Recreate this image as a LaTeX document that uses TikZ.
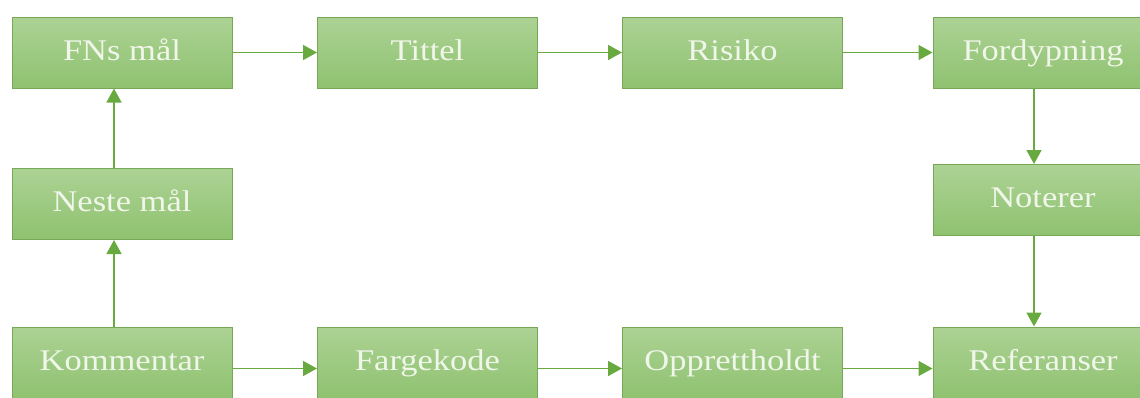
\documentclass[tikz,border=0pt]{standalone}
\usepackage{fontspec}
\setmainfont[FakeStretch=1.15]{Liberation Serif}
\usetikzlibrary{arrows.meta}
\definecolor{boxtop}{RGB}{172,210,148}
\definecolor{boxbot}{RGB}{143,194,112}
\definecolor{boxline}{RGB}{118,168,88}
\definecolor{arrowgreen}{RGB}{104,170,64}
\definecolor{txt}{RGB}{240,246,234}
\tikzset{
  stepbox/.style={draw=boxline, line width=1pt, top color=boxtop, bottom color=boxbot,
    minimum width=220pt, minimum height=71pt, inner sep=0pt, text=txt,
    text height=19pt, text depth=4pt,
    font=\fontsize{30}{36}\selectfont},
  flow/.style={draw=arrowgreen, line width=1.6pt, -{Triangle[length=14pt,width=15pt]}}
}
\begin{document}
\begin{tikzpicture}[x=1pt,y=-1pt]
\useasboundingbox (0,0) rectangle (1140,397);
\node[stepbox] (fns)  at (122,52.5) {FNs mål};
\node[stepbox] (tit)  at (427.5,52.5) {Tittel};
\node[stepbox] (ris)  at (732.5,52.5) {Risiko};
\node[stepbox] (for)  at (1043,52.5) {Fordypning};
\node[stepbox] (nes)  at (122,204) {Neste mål};
\node[stepbox] (not)  at (1043,200) {Noterer};
\node[stepbox] (kom)  at (122,362.5) {Kommentar};
\node[stepbox] (far)  at (427.5,362.5) {Fargekode};
\node[stepbox] (opp)  at (732.5,362.5) {Opprettholdt};
\node[stepbox] (ref)  at (1043,362.5) {Referanser};
\draw[flow] (fns) -- (tit);
\draw[flow] (tit) -- (ris);
\draw[flow] (ris) -- (for);
\draw[flow] ([xshift=-9pt]for.south) -- ([xshift=-9pt]not.north);
\draw[flow] ([xshift=-9pt]not.south) -- ([xshift=-9pt]ref.north);
\draw[flow] ([yshift=-6pt]kom.east) -- ([yshift=-6pt]far.west);
\draw[flow] ([yshift=-6pt]far.east) -- ([yshift=-6pt]opp.west);
\draw[flow] ([yshift=-6pt]opp.east) -- ([yshift=-6pt]ref.west);
\draw[flow] ([xshift=-8pt]kom.north) -- ([xshift=-8pt]nes.south);
\draw[flow] ([xshift=-8pt]nes.north) -- ([xshift=-8pt]fns.south);
\end{tikzpicture}
\end{document}
